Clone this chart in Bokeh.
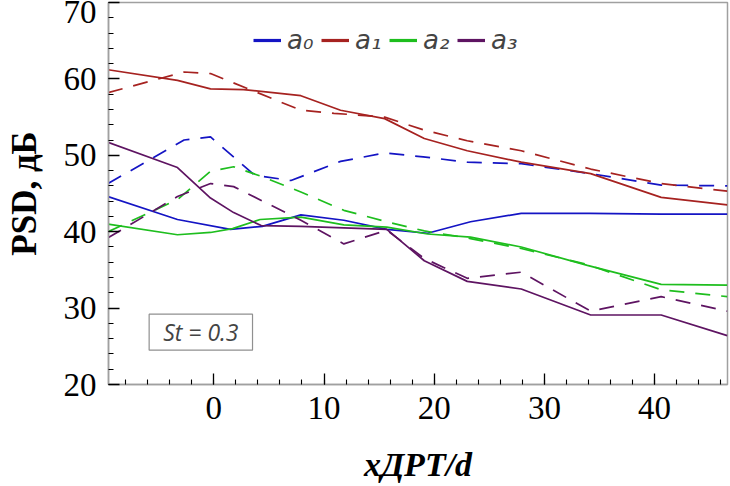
from bokeh.plotting import figure
from bokeh.models import Legend, LegendItem, Label, SingleIntervalTicker, Range1d
from bokeh.embed import file_html
from bokeh.resources import INLINE

# ---- data ----
x_a0_solid = [-9.6, -3.3, 1.5, 4.4, 7.9, 11.8, 15.7, 19.4, 23.3, 27.9, 34.1, 40.6, 46.6]
y_a0_solid = [44.6, 41.6, 40.3, 40.7, 42.2, 41.5, 40.3, 39.8, 41.3, 42.4, 42.4, 42.3, 42.3]
x_a0_dash = [-9.6, -2.7, -0.3, 3.7, 7.0, 11.5, 15.5, 19.0, 23.0, 27.9, 34.2, 40.6, 46.6]
y_a0_dash = [46.3, 52.0, 52.4, 47.4, 46.7, 49.2, 50.3, 49.8, 49.1, 48.9, 47.6, 46.1, 46.0]

x_a1_solid = [-9.6, -3.3, -0.3, 2.7, 7.9, 11.5, 15.5, 19.1, 23.0, 27.9, 34.2, 40.6, 46.6]
y_a1_solid = [61.2, 59.8, 58.7, 58.6, 57.8, 55.9, 54.8, 52.2, 50.6, 49.1, 47.6, 44.5, 43.5]
x_a1_dash = [-9.6, -2.7, -0.3, 7.9, 10.9, 15.5, 19.1, 23.0, 27.9, 34.2, 40.6, 46.6]
y_a1_dash = [58.2, 60.9, 60.7, 55.9, 55.5, 55.0, 53.3, 51.9, 50.6, 48.2, 46.3, 45.3]

x_a2_solid = [-9.6, -3.3, -0.3, 1.7, 4.2, 7.9, 11.8, 15.7, 19.4, 23.3, 27.9, 33.9, 40.6, 46.6]
y_a2_solid = [41.0, 39.6, 39.9, 40.4, 41.6, 41.9, 40.9, 40.6, 39.7, 39.3, 38.0, 35.6, 33.1, 33.0]
x_a2_dash = [-9.6, -3.3, -0.3, 1.8, 4.4, 7.9, 11.8, 15.7, 19.1, 23.3, 27.9, 33.9, 40.6, 46.6]
y_a2_dash = [40.0, 44.2, 47.9, 48.5, 47.2, 45.2, 42.8, 41.3, 40.1, 39.1, 37.8, 35.7, 32.4, 31.5]

x_a3_solid = [-9.6, -3.3, -0.3, 1.8, 4.3, 7.9, 15.7, 19.1, 23.0, 27.9, 34.2, 40.6, 46.6]
y_a3_solid = [51.7, 48.4, 44.4, 42.5, 40.8, 40.7, 40.3, 36.2, 33.5, 32.5, 29.1, 29.1, 26.4]
x_a3_dash = [-9.6, -3.3, -0.3, 1.8, 7.9, 11.8, 15.7, 19.1, 23.0, 27.9, 34.2, 40.6, 46.6]
y_a3_dash = [39.2, 44.6, 46.3, 45.9, 41.5, 38.4, 40.2, 36.5, 33.9, 34.7, 29.6, 31.5, 29.6]

series_labels = ["a₀", "a₁", "a₂", "a₃"]
series_colors = ["#1414c4", "#a62220", "#1ebe1e", "#5e1462"]
x_tick_step = 10
y_tick_step = 10
st_text = "St = 0.3"
y_label = "PSD, дБ"
x_label = "xДРТ/d"

solid = [(x_a0_solid, y_a0_solid), (x_a1_solid, y_a1_solid),
         (x_a2_solid, y_a2_solid), (x_a3_solid, y_a3_solid)]
dashed = [(x_a0_dash, y_a0_dash), (x_a1_dash, y_a1_dash),
          (x_a2_dash, y_a2_dash), (x_a3_dash, y_a3_dash)]

p = figure(width=730, height=486, output_backend="svg", toolbar_location=None,
           x_range=Range1d(-9.56, 46.62), y_range=Range1d(20, 70),
           min_border_left=108, min_border_right=3, min_border_top=2,
           min_border_bottom=102)
p.grid.visible = False
p.outline_line_color = "#a0a0a0"
p.outline_line_width = 1.5

legend_renderers = []
for (xs, ys), (xd, yd), c in zip(solid, dashed, series_colors):
    p.line(xd, yd, line_color=c, line_width=1.7, line_dash="15 11")
    p.line(xs, ys, line_color=c, line_width=1.7)
    # thicker copy used only for the legend swatch (not drawn in the plot)
    legend_renderers.append(p.line(xs, ys, line_color=c, line_width=3.2, visible=False))

for ax, step in ((p.xaxis[0], x_tick_step), (p.yaxis[0], y_tick_step)):
    ax.ticker = SingleIntervalTicker(interval=step, num_minor_ticks=5)
    ax.major_tick_in = 11
    ax.major_tick_out = 0
    ax.minor_tick_in = 5
    ax.minor_tick_out = 0
    ax.major_tick_line_color = "black"
    ax.minor_tick_line_color = "black"
    ax.major_tick_line_width = 1.3
    ax.minor_tick_line_width = 1.1
    ax.axis_line_color = "#a0a0a0"
    ax.axis_line_width = 1.5
    ax.major_label_text_font = "Liberation Serif"
    ax.major_label_text_font_size = "33px"
    ax.major_label_text_color = "black"
    ax.major_label_standoff = 12

p.yaxis[0].axis_label = y_label
p.yaxis[0].axis_label_text_font = "Liberation Serif"
p.yaxis[0].axis_label_text_font_style = "bold"
p.yaxis[0].axis_label_text_font_size = "35px"
p.yaxis[0].axis_label_text_color = "black"
p.yaxis[0].axis_label_standoff = 17

p.xaxis[0].axis_label = x_label
p.xaxis[0].axis_label_text_font = "Liberation Serif"
p.xaxis[0].axis_label_text_font_style = "bold italic"
p.xaxis[0].axis_label_text_font_size = "34px"
p.xaxis[0].axis_label_text_color = "black"
p.xaxis[0].axis_label_standoff = 24

# St box
p.add_layout(Label(x=-1.18, y=26.85, text=st_text, text_align="center",
                   text_baseline="middle", text_font="Open Sans",
                   text_font_style="italic", text_font_size="23px",
                   border_line_color="#909090", border_line_width=1.2,
                   background_fill_color="white", padding=(14, 2)))

legend = Legend(items=[LegendItem(label=l, renderers=[r])
                       for l, r in zip(series_labels, legend_renderers)],
                orientation="horizontal", location=(145, 329),
                border_line_color=None, background_fill_alpha=0,
                inactive_fill_alpha=0, click_policy="none",
                padding=0, margin=0, glyph_width=28, glyph_height=20,
                label_standoff=6, spacing=4, label_width=30,
                label_text_font="DejaVu Sans", label_text_font_style="italic",
                label_text_font_size="26px")
p.add_layout(legend)

open("out.html", "w").write(file_html(p, INLINE))
